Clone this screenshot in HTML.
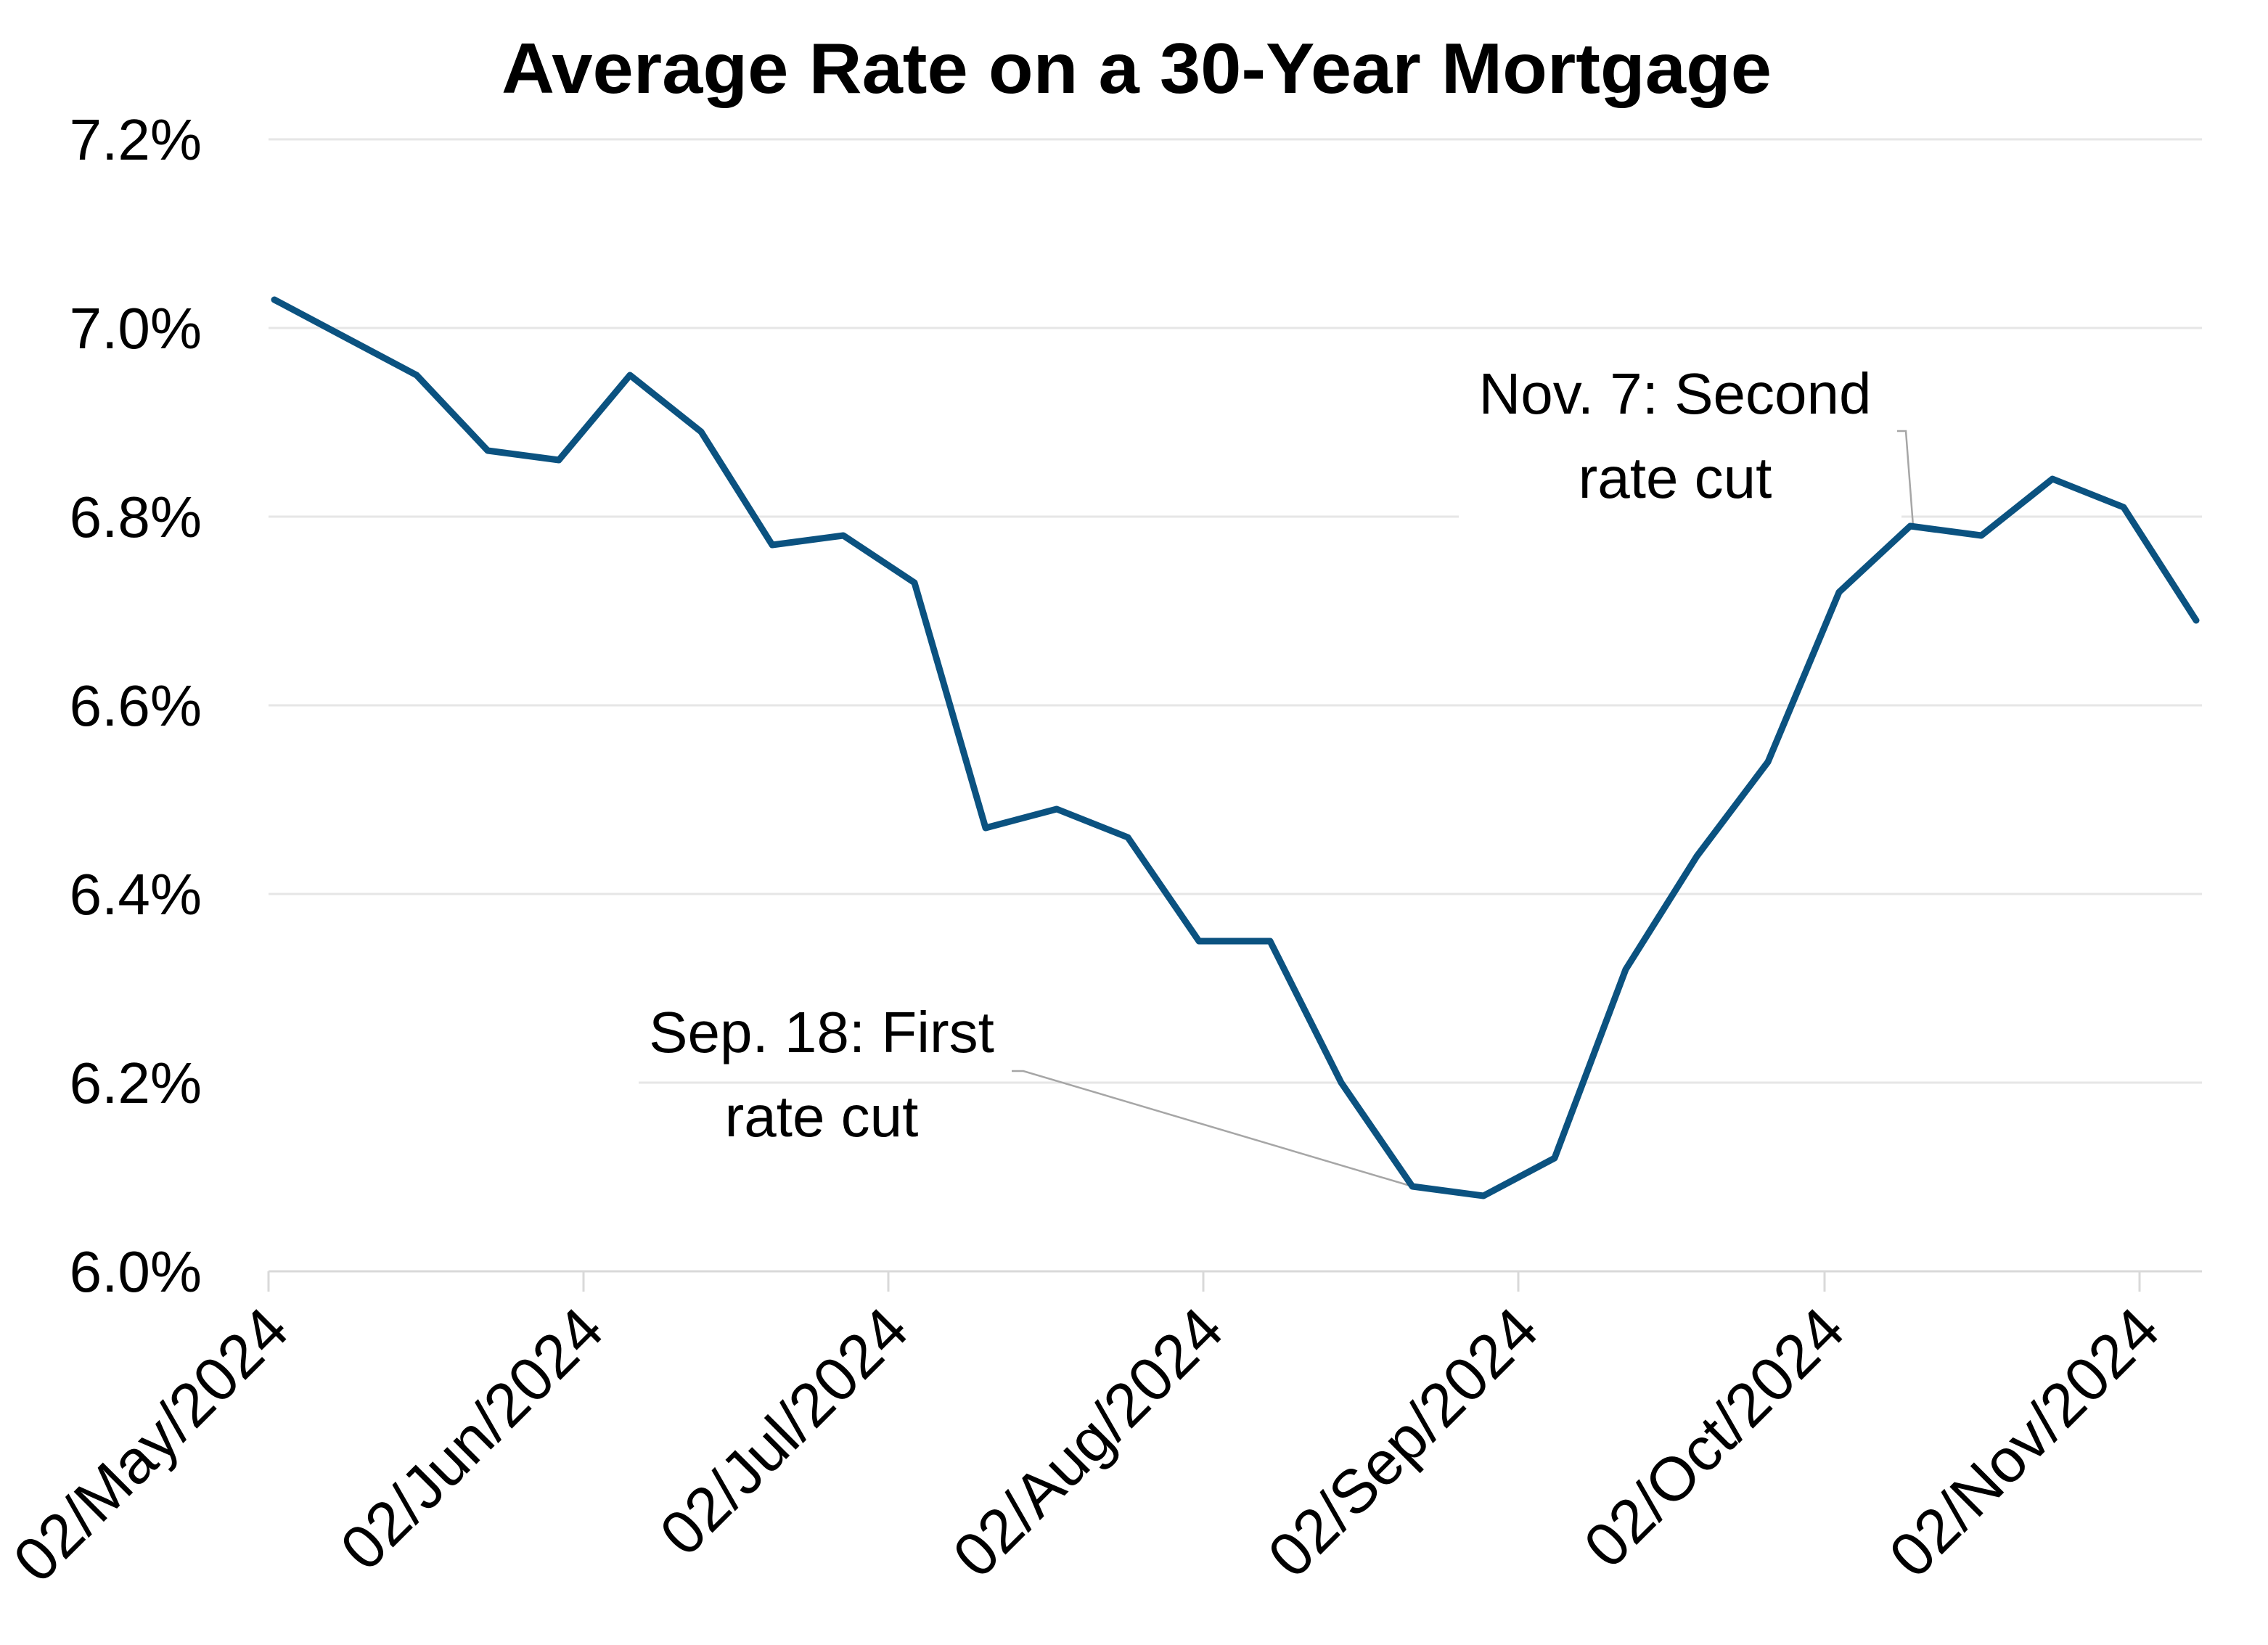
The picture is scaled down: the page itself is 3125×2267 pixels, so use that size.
<!DOCTYPE html>
<html><head><meta charset="utf-8"><style>html,body{margin:0;padding:0;background:#fff}svg{display:block}</style></head>
<body>
<svg width="3125" height="2267" viewBox="0 0 3125 2267" xmlns="http://www.w3.org/2000/svg" font-family="'Liberation Sans', sans-serif">
<rect width="3125" height="2267" fill="#fff"/>
<text x="1566" y="128" text-anchor="middle" font-size="98" font-weight="bold" fill="#000" textLength="1750" lengthAdjust="spacingAndGlyphs">Average Rate on a 30-Year Mortgage</text>
<g stroke="#e6e6e6" stroke-width="3">
<line x1="370" y1="192" x2="3034" y2="192"/>
<line x1="370" y1="452" x2="3034" y2="452"/>
<line x1="370" y1="712" x2="2010" y2="712"/>
<line x1="2620" y1="712" x2="3034" y2="712"/>
<line x1="370" y1="972" x2="3034" y2="972"/>
<line x1="370" y1="1232" x2="3034" y2="1232"/>
<line x1="880" y1="1492" x2="3034" y2="1492"/>
</g>
<g stroke="#d9d9d9" stroke-width="3">
<line x1="370" y1="1752" x2="3034" y2="1752"/>
<line x1="370" y1="1752" x2="370" y2="1780"/>
<line x1="804" y1="1752" x2="804" y2="1780"/>
<line x1="1224" y1="1752" x2="1224" y2="1780"/>
<line x1="1658" y1="1752" x2="1658" y2="1780"/>
<line x1="2092" y1="1752" x2="2092" y2="1780"/>
<line x1="2514" y1="1752" x2="2514" y2="1780"/>
<line x1="2948" y1="1752" x2="2948" y2="1780"/>
</g>
<g font-size="80" fill="#000" text-anchor="end">
<text x="278" y="220">7.2%</text>
<text x="278" y="480">7.0%</text>
<text x="278" y="740">6.8%</text>
<text x="278" y="1000">6.6%</text>
<text x="278" y="1260">6.4%</text>
<text x="278" y="1520">6.2%</text>
<text x="278" y="1780">6.0%</text>
</g>
<g font-size="85" fill="#000" text-anchor="end">
<text transform="translate(402,1838) rotate(-45)">02/May/2024</text>
<text transform="translate(836,1838) rotate(-45)">02/Jun/2024</text>
<text transform="translate(1256,1838) rotate(-45)">02/Jul/2024</text>
<text transform="translate(1690,1838) rotate(-45)">02/Aug/2024</text>
<text transform="translate(2124,1838) rotate(-45)">02/Sep/2024</text>
<text transform="translate(2546,1838) rotate(-45)">02/Oct/2024</text>
<text transform="translate(2980,1838) rotate(-45)">02/Nov/2024</text>
</g>
<polyline fill="none" stroke="#a6a6a6" stroke-width="2.5" points="1394,1476 1410,1476 1946,1635"/>
<polyline fill="none" stroke="#a6a6a6" stroke-width="2.5" points="2614,594 2626,594 2636,725"/>
<polyline fill="none" stroke="#0b5280" stroke-width="9" stroke-linejoin="round" stroke-linecap="round" points="378,413 476,465 574,517 672,621 770,634 868,517 966,595 1064,751 1162,738 1260,803 1358,1141 1456,1115 1554,1154 1652,1297 1750,1297 1848,1492 1946,1635 2044,1648 2142,1596 2240,1336 2338,1180 2436,1050 2534,816 2632,725 2730,738 2828,660 2926,699 3026,855"/>
<g font-size="80" fill="#000" text-anchor="middle">
<text x="1132" y="1450">Sep. 18: First</text>
<text x="1132" y="1566">rate cut</text>
<text x="2308" y="570">Nov. 7: Second</text>
<text x="2308" y="686">rate cut</text>
</g>
</svg>
</body></html>
